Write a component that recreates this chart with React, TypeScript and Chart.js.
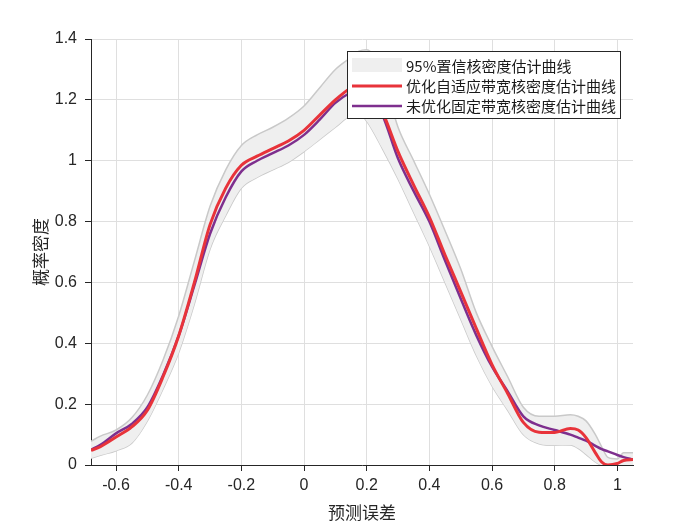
import { useEffect, useRef } from 'react';
import { Chart, registerables } from 'chart.js';

Chart.register(...registerables);

const xs = [-0.68, -0.65, -0.6, -0.55, -0.5, -0.45, -0.4, -0.35, -0.3, -0.25, -0.2, -0.15, -0.1, -0.05, 0, 0.05, 0.1, 0.15, 0.175, 0.2, 0.25, 0.3, 0.35, 0.4, 0.45, 0.5, 0.55, 0.6, 0.65, 0.7, 0.75, 0.8, 0.85, 0.875, 0.9, 0.93, 0.95, 0.97, 1.0, 1.02, 1.05];

const adaptiveY = [0.048, 0.06, 0.092, 0.125, 0.18, 0.29, 0.425, 0.6, 0.79, 0.91, 0.985, 1.015, 1.04, 1.065, 1.1, 1.15, 1.2, 1.24, 1.25, 1.24, 1.16, 1.03, 0.92, 0.815, 0.69, 0.57, 0.448, 0.33, 0.235, 0.14, 0.108, 0.107, 0.12, 0.115, 0.09, 0.04, 0.01, 0.0, 0.005, 0.015, 0.018];

const fixedY = [0.05, 0.066, 0.104, 0.135, 0.19, 0.295, 0.425, 0.59, 0.76, 0.88, 0.965, 1.0, 1.025, 1.05, 1.085, 1.135, 1.19, 1.225, 1.235, 1.23, 1.15, 1.007, 0.9, 0.8, 0.672, 0.547, 0.426, 0.323, 0.242, 0.16, 0.13, 0.115, 0.1, 0.09, 0.08, 0.063, 0.052, 0.045, 0.033, 0.026, 0.018];

const bandUpper = [0.078, 0.095, 0.115, 0.155, 0.23, 0.345, 0.49, 0.67, 0.85, 0.97, 1.05, 1.085, 1.11, 1.14, 1.18, 1.24, 1.3, 1.34, 1.36, 1.365, 1.28, 1.11, 1.0, 0.89, 0.77, 0.645, 0.5, 0.39, 0.29, 0.19, 0.16, 0.16, 0.165, 0.16, 0.145, 0.1, 0.06, 0.025, 0.02, 0.04, 0.04];

const bandLower = [0.022, 0.032, 0.047, 0.072, 0.145, 0.25, 0.37, 0.53, 0.71, 0.82, 0.91, 0.945, 0.97, 0.995, 1.03, 1.07, 1.11, 1.15, 1.155, 1.13, 1.04, 0.94, 0.83, 0.72, 0.6, 0.48, 0.36, 0.26, 0.18, 0.1, 0.07, 0.065, 0.066, 0.055, 0.035, 0.01, 0.0, 0.0, 0.0, 0.0, 0.0];

const xTicks = [-0.6, -0.4, -0.2, 0, 0.2, 0.4, 0.6, 0.8, 1.0];
const yTicks = [0, 0.2, 0.4, 0.6, 0.8, 1.0, 1.2, 1.4];

const legendLabels = ['95%置信核密度估计曲线', '优化自适应带宽核密度估计曲线', '未优化固定带宽核密度估计曲线'];
const xTitle = '预测误差';
const yTitle = '概率密度';

const RED = '#e8333a';
const PURPLE = '#7e2f8e';
const BAND_FILL = '#efefef';
const BAND_EDGE = '#c9c9c9';
const AXIS = '#262626';
const GRID = '#dfdfdf';

const pts = (ys: number[]) => xs.map((x, i) => ({ x, y: ys[i] }));
const fmt = (v: number) => String(Number(v.toFixed(1)));

const legendPlugin = {
  id: 'boxLegend',
  afterDraw(chart: any) {
    const ctx = chart.ctx as CanvasRenderingContext2D;
    const left = 347.5, top = 51.5, w = 273, h = 67;
    ctx.save();
    ctx.fillStyle = '#ffffff';
    ctx.fillRect(left, top, w, h);
    ctx.strokeStyle = '#262626';
    ctx.lineWidth = 1;
    ctx.strokeRect(left, top, w, h);
    // patch
    ctx.fillStyle = BAND_FILL;
    ctx.fillRect(352, 58, 50, 14);
    // lines
    ctx.lineCap = 'butt';
    ctx.strokeStyle = RED;
    ctx.lineWidth = 3;
    ctx.beginPath();
    ctx.moveTo(352, 86);
    ctx.lineTo(402, 86);
    ctx.stroke();
    ctx.strokeStyle = PURPLE;
    ctx.lineWidth = 2.5;
    ctx.beginPath();
    ctx.moveTo(352, 106);
    ctx.lineTo(402, 106);
    ctx.stroke();
    ctx.fillStyle = '#1a1a1a';
    ctx.font = '15px "Noto Sans CJK SC", "Liberation Sans", sans-serif';
    ctx.textBaseline = 'middle';
    ctx.textAlign = 'left';
    const ys = [66, 86.5, 106.5];
    legendLabels.forEach((t, i) => ctx.fillText(t, 406, ys[i]));
    ctx.restore();
  },
};

export default function App() {
  const ref = useRef<HTMLCanvasElement | null>(null);

  useEffect(() => {
    if (!ref.current) return;
    const chart = new Chart(ref.current, {
      type: 'line',
      data: {
        datasets: [
          {
            label: legendLabels[1],
            data: pts(adaptiveY),
            borderColor: RED,
            borderWidth: 3,
            fill: false,
            cubicInterpolationMode: 'monotone',
            pointRadius: 0,
            order: 0,
          },
          {
            label: legendLabels[2],
            data: pts(fixedY),
            borderColor: PURPLE,
            borderWidth: 2.5,
            fill: false,
            cubicInterpolationMode: 'monotone',
            pointRadius: 0,
            order: 1,
          },
          {
            label: legendLabels[0],
            data: pts(bandUpper),
            borderColor: BAND_EDGE,
            borderWidth: 1.5,
            backgroundColor: BAND_FILL,
            fill: '+1',
            cubicInterpolationMode: 'monotone',
            pointRadius: 0,
            order: 2,
          },
          {
            label: 'lower',
            data: pts(bandLower),
            borderColor: BAND_EDGE,
            borderWidth: 1.5,
            fill: false,
            cubicInterpolationMode: 'monotone',
            pointRadius: 0,
            order: 3,
          },
        ],
      },
      options: {
        responsive: false,
        animation: false,
        devicePixelRatio: 1,
        layout: { padding: { left: 0, right: 67, top: 39, bottom: 0 } },
        plugins: {
          legend: { display: false },
          tooltip: { enabled: false },
        },
        scales: {
          x: {
            type: 'linear',
            min: -0.68,
            max: 1.05,
            afterBuildTicks: (s: any) => {
              s.ticks = xTicks.map((v) => ({ value: v }));
            },
            afterFit: (s: any) => {
              s.height = 60;
            },
            grid: { color: GRID, lineWidth: 1, tickLength: 6, tickColor: AXIS },
            border: { display: true, color: AXIS, width: 1 },
            ticks: {
              color: AXIS,
              font: { family: '"Liberation Sans", Arial, sans-serif', size: 16 },
              padding: 5,
              maxRotation: 0,
              autoSkip: false,
              callback: (v: any) => fmt(Number(v)),
            },
            title: {
              display: true,
              text: xTitle,
              color: AXIS,
              font: { family: '"Noto Sans CJK SC", sans-serif', size: 17 },
              padding: { top: 0, bottom: 2 },
            },
          },
          y: {
            type: 'linear',
            min: 0,
            max: 1.4,
            afterBuildTicks: (s: any) => {
              s.ticks = yTicks.map((v) => ({ value: v }));
            },
            afterFit: (s: any) => {
              s.width = 91;
            },
            grid: { color: GRID, lineWidth: 1, tickLength: 6, tickColor: AXIS },
            border: { display: true, color: AXIS, width: 1 },
            ticks: {
              color: AXIS,
              font: { family: '"Liberation Sans", Arial, sans-serif', size: 16 },
              padding: 8,
              autoSkip: false,
              callback: (v: any) => fmt(Number(v)),
            },
            title: {
              display: true,
              text: yTitle,
              color: AXIS,
              font: { family: '"Noto Sans CJK SC", sans-serif', size: 17 },
              padding: { top: 30, bottom: 0 },
            },
          },
        },
      },
      plugins: [legendPlugin],
    });
    return () => chart.destroy();
  }, []);

  return (
    <div style={{ position: 'absolute', left: 0, top: 0, width: 700, height: 525, background: '#ffffff' }}>
      <canvas ref={ref} width={700} height={525} style={{ display: 'block' }} />
    </div>
  );
}
